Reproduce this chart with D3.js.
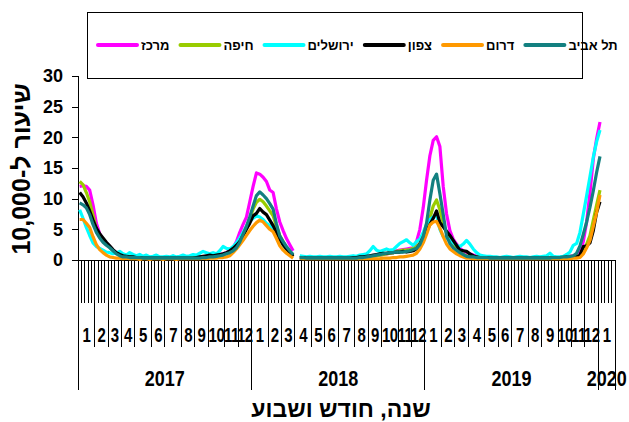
<!DOCTYPE html>
<html>
<head>
<meta charset="utf-8">
<script src="https://cdn.jsdelivr.net/npm/d3@7"></script>
<style>
  body { margin: 0; background: #fff; }
  text { font-family: "Liberation Sans", Arial, sans-serif; font-weight: bold; fill: #000; }
</style>
</head>
<body>
<div id="chart"></div>
<script>
const W = 629, H = 422;

// weeks in each month, per year (category axis: year > month > week)
const years = ["2017", "2018", "2019", "2020"];
const monthWeeks2017 = [5, 4, 4, 4, 5, 4, 5, 4, 4, 5, 4, 4];
const monthWeeks2018 = [5, 4, 4, 5, 4, 4, 5, 4, 4, 5, 4, 4];
const monthWeeks2019 = [5, 4, 4, 5, 4, 4, 5, 4, 5, 4, 4, 4];
const monthWeeks2020 = [5];
const monthWeeks = [monthWeeks2017, monthWeeks2018, monthWeeks2019, monthWeeks2020];

const yTicks = [0, 5, 10, 15, 20, 25, 30];
const seriesNames = ["מרכז", "חיפה", "ירושלים", "צפון", "דרום", "תל אביב"];

// weekly rate per 10,000 (null = missing week)
const merkaz = [
  12.0, 12.1, 12.0, 11.4, 9.0, 6.0, 4.3, 3.3, 2.8, 2.2, 1.6, 1.2, 0.9, 0.7,
  0.6, 0.5, 0.5, 0.4, 0.4, 0.4, 0.3, 0.3, 0.3, 0.3, 0.3, 0.3, 0.3, 0.3, 0.3, 0.3,
  0.3, 0.3, 0.3, 0.4, 0.4, 0.4, 0.5, 0.5, 0.6, 0.6, 0.7, 0.8, 0.9, 1.0, 1.2,
  1.5, 2.0, 3.0, 4.5, 5.8, 7.0, 9.5, 12.0, 14.2, 14.0, 13.5, 12.8, 11.4, 11.0, 8.3,
  6.2, 4.8, 3.5, 2.5, 1.5,
  null,
  0.4, 0.4, 0.3, 0.3, 0.3, 0.3, 0.3, 0.3, 0.3, 0.3, 0.3, 0.3, 0.3, 0.3, 0.3, 0.3,
  0.3, 0.3, 0.4, 0.4, 0.5, 0.5, 0.6, 0.7, 0.8, 0.9, 1.0, 1.1, 1.3, 1.5,
  1.6, 1.7, 1.8, 1.9, 2.0, 3.0, 5.0, 8.5, 13.0, 17.0, 19.5, 20.1, 18.5, 12.0, 7.5,
  4.8, 3.4, 2.6, 1.9, 1.5, 1.2, 1.0, 0.8, 0.6, 0.5,
  0.5, 0.4, 0.4, 0.4, 0.3, 0.3, 0.3, 0.3, 0.3, 0.3, 0.3, 0.3, 0.3, 0.3, 0.3, 0.3,
  0.3, 0.3, 0.3, 0.3, 0.3, 0.4, 0.4, 0.4, 0.5, 0.5, 0.6, 0.7, 0.8,
  1.2, 3.0, 6.2, 11.0, 16.5, 19.8, 22.5
];
const haifa = [
  12.8, 12.3, 11.0, 9.5, 7.3, 5.0, 4.0, 3.3, 2.7, 2.1, 1.5, 1.1, 0.8, 0.6,
  0.5, 0.5, 0.4, 0.4, 0.4, 0.3, 0.3, 0.3, 0.3, 0.3, 0.3, 0.3, 0.3, 0.3, 0.3, 0.3,
  0.3, 0.3, 0.3, 0.3, 0.4, 0.4, 0.4, 0.5, 0.5, 0.6, 0.6, 0.7, 0.8, 0.9, 1.1,
  1.3, 1.6, 2.1, 2.8, 3.8, 5.2, 6.8, 8.3, 9.4, 9.9, 9.5, 8.8, 8.0, 7.2, 5.5,
  4.0, 3.0, 2.0, 1.3, 0.7,
  null,
  0.4, 0.4, 0.3, 0.3, 0.3, 0.3, 0.3, 0.3, 0.3, 0.3, 0.3, 0.3, 0.3, 0.3, 0.3, 0.3,
  0.3, 0.3, 0.4, 0.4, 0.5, 0.5, 0.6, 0.7, 0.8, 0.9, 1.0, 1.1, 1.2, 1.4,
  1.5, 1.6, 1.6, 1.7, 1.9, 2.2, 2.7, 3.8, 5.0, 6.8, 8.8, 9.8, 8.2, 6.0, 4.4,
  3.2, 2.4, 1.8, 1.3, 0.9, 0.7, 0.6, 0.5, 0.5, 0.4,
  0.4, 0.4, 0.4, 0.3, 0.3, 0.3, 0.3, 0.3, 0.3, 0.3, 0.3, 0.3, 0.3, 0.3, 0.3, 0.3,
  0.3, 0.3, 0.3, 0.3, 0.3, 0.4, 0.4, 0.4, 0.5, 0.5, 0.5, 0.6, 0.7,
  0.6, 1.2, 2.6, 4.0, 6.5, 9.0, 11.4
];
const jerusalem = [
  8.2, 6.8, 5.3, 4.0, 2.8, 2.2, 1.9, 1.6, 1.3, 1.2, 1.0, 1.2, 1.4, 1.0,
  0.8, 1.2, 0.9, 0.7, 0.9, 0.6, 0.8, 0.5, 0.6, 0.8, 0.5, 0.5, 0.6, 0.5, 0.7, 0.5,
  0.6, 0.8, 0.6, 0.7, 0.9, 0.8, 1.1, 1.4, 1.2, 1.0, 1.2, 1.0, 1.5, 2.2, 1.9,
  1.8, 2.2, 2.8, 3.6, 4.5, 5.5, 6.3, 6.8, 7.2, 7.0, 6.6, 6.0, 5.6, 5.0, 4.0,
  3.2, 2.4, 1.6, 1.0, 0.6,
  null,
  0.7, 0.6, 0.5, 0.6, 0.5, 0.5, 0.6, 0.5, 0.5, 0.6, 0.5, 0.5, 0.6, 0.5, 0.5, 0.6,
  0.7, 0.6, 0.8, 0.9, 1.0, 1.5, 2.2, 1.6, 1.4, 1.6, 1.8, 1.6, 1.7, 2.2,
  2.7, 3.0, 3.3, 2.8, 2.4, 3.0, 3.4, 4.5, 5.8, 6.6, 7.0, 7.4, 5.0, 3.8, 3.6,
  3.3, 2.8, 2.4, 2.2, 2.6, 3.2, 2.6, 1.8, 1.2, 0.8,
  0.7, 0.6, 0.6, 0.5, 0.5, 0.4, 0.5, 0.6, 0.5, 0.4, 0.5, 0.6, 0.5, 0.5, 0.4, 0.5,
  0.6, 0.5, 0.6, 0.7, 1.1, 0.6, 0.5, 0.5, 0.6, 0.9, 1.3, 2.4, 2.7,
  4.5, 7.5, 10.5, 13.6, 16.8, 19.3, 21.2
];
const tzafon = [
  11.0, 10.3, 9.3, 8.0, 6.5, 5.2, 4.3, 3.6, 2.9, 2.3, 1.7, 1.2, 0.9, 0.7,
  0.6, 0.5, 0.5, 0.4, 0.4, 0.3, 0.3, 0.3, 0.3, 0.3, 0.3, 0.3, 0.3, 0.3, 0.3, 0.3,
  0.3, 0.3, 0.3, 0.3, 0.3, 0.4, 0.5, 0.6, 0.7, 0.8, 0.7, 0.8, 0.9, 1.0, 1.2,
  1.5, 1.9, 2.4, 3.0, 4.0, 5.0, 6.0, 7.2, 7.6, 8.4, 7.8, 7.4, 6.5, 5.6, 4.5,
  3.4, 2.5, 1.8, 1.2, 0.6,
  null,
  0.4, 0.4, 0.3, 0.3, 0.3, 0.3, 0.3, 0.3, 0.3, 0.3, 0.3, 0.3, 0.3, 0.3, 0.3, 0.3,
  0.4, 0.4, 0.5, 0.5, 0.6, 0.7, 0.8, 0.9, 1.0, 1.1, 1.1, 1.2, 1.2, 1.3,
  1.3, 1.4, 1.3, 1.4, 1.5, 1.8, 2.6, 3.7, 4.7, 5.8, 6.8, 8.0, 6.1, 5.4, 4.7,
  4.0, 3.2, 2.4, 1.6, 1.5, 1.4, 1.0, 0.7, 0.5, 0.4,
  0.4, 0.4, 0.3, 0.3, 0.3, 0.3, 0.3, 0.3, 0.3, 0.3, 0.3, 0.3, 0.3, 0.3, 0.3, 0.3,
  0.3, 0.3, 0.3, 0.3, 0.3, 0.3, 0.4, 0.4, 0.4, 0.5, 0.5, 0.5, 0.5,
  0.8, 2.2, 2.3, 2.8, 4.8, 7.8, 9.5
];
const darom = [
  6.6, 6.6, 6.0, 5.3, 3.8, 2.5, 1.7, 1.2, 0.8, 0.5, 0.4, 0.3, 0.3, 0.2,
  0.3, 0.2, 0.2, 0.2, 0.1, 0.2, 0.2, 0.1, 0.2, 0.2, 0.2, 0.1, 0.2, 0.2, 0.2, 0.1,
  0.2, 0.2, 0.2, 0.2, 0.2, 0.2, 0.2, 0.3, 0.2, 0.3, 0.3, 0.3, 0.4, 0.4, 0.5,
  0.7, 1.2, 1.8, 2.5, 3.2, 4.0, 4.8, 5.5, 6.1, 6.5, 6.2, 5.6, 5.0, 4.6, 3.5,
  2.3, 1.6, 1.1, 0.7, 0.3,
  null,
  0.3, 0.2, 0.2, 0.2, 0.2, 0.2, 0.2, 0.2, 0.2, 0.2, 0.2, 0.2, 0.2, 0.2, 0.2, 0.2,
  0.2, 0.2, 0.2, 0.2, 0.2, 0.2, 0.2, 0.2, 0.2, 0.3, 0.3, 0.3, 0.4, 0.4,
  0.5, 0.5, 0.6, 0.7, 0.8, 1.1, 1.8, 2.8, 4.2, 5.7, 6.2, 6.3, 5.2, 3.8, 2.6,
  1.8, 1.4, 1.0, 0.7, 0.5, 0.3, 0.3, 0.2, 0.2, 0.2,
  0.2, 0.2, 0.2, 0.2, 0.2, 0.2, 0.2, 0.2, 0.2, 0.2, 0.2, 0.2, 0.2, 0.2, 0.2, 0.2,
  0.2, 0.2, 0.2, 0.2, 0.2, 0.2, 0.2, 0.2, 0.2, 0.2, 0.2, 0.3, 0.3,
  0.4, 1.0, 2.0, 3.2, 5.5, 7.8, 10.6
];
const telAviv = [
  9.3, 9.0, 8.5, 7.4, 5.8, 4.5, 3.6, 2.9, 2.4, 2.0, 1.5, 1.0, 0.7, 0.5,
  0.5, 0.4, 0.4, 0.4, 0.4, 0.3, 0.3, 0.3, 0.3, 0.3, 0.3, 0.3, 0.3, 0.3, 0.3, 0.3,
  0.3, 0.3, 0.3, 0.3, 0.3, 0.3, 0.3, 0.4, 0.4, 0.5, 0.5, 0.6, 0.7, 0.8, 1.0,
  1.2, 1.5, 2.0, 2.9, 4.2, 5.5, 7.0, 8.8, 10.5, 11.1, 10.6, 10.0, 9.2, 8.3, 5.9,
  3.9, 3.0, 2.2, 1.5, 0.9,
  null,
  0.4, 0.4, 0.3, 0.3, 0.3, 0.3, 0.3, 0.3, 0.3, 0.3, 0.3, 0.3, 0.3, 0.3, 0.3, 0.3,
  0.3, 0.3, 0.4, 0.4, 0.5, 0.6, 0.7, 0.8, 0.9, 1.0, 1.1, 1.2, 1.2, 1.3,
  1.3, 1.3, 1.4, 1.5, 1.7, 1.9, 2.5, 3.8, 6.0, 9.8, 13.0, 14.0, 10.8, 7.4, 3.9,
  2.7, 2.0, 1.6, 1.2, 0.9, 0.6, 0.5, 0.5, 0.4, 0.4,
  0.4, 0.4, 0.3, 0.3, 0.3, 0.3, 0.3, 0.3, 0.3, 0.3, 0.3, 0.3, 0.3, 0.3, 0.3, 0.3,
  0.3, 0.3, 0.3, 0.3, 0.3, 0.4, 0.4, 0.4, 0.5, 0.5, 0.6, 0.7, 1.1,
  2.3, 4.2, 6.2, 8.6, 11.3, 14.3, 16.9
];

const series = [merkaz, haifa, jerusalem, tzafon, darom, telAviv];
const colors = ["#ff00ff", "#99cc00", "#00ffff", "#000000", "#ff9900", "#138080"];

// flatten the category hierarchy
const weeks = [];
const months = [];
const yearSpans = [];
years.forEach((yr, yi) => {
    const yStart = weeks.length;
    monthWeeks[yi].forEach((n, mi) => {
        months.push({ label: String(mi + 1), start: weeks.length, n: n });
        for (let k = 0; k < n; k++) weeks.push({ year: yr, month: mi + 1 });
    });
    yearSpans.push({ label: yr, start: yStart, n: weeks.length - yStart });
});

const plot = { left: 78, right: 615, top: 76, bottom: 260 };

const svg = d3.select('#chart').append('svg')
    .attr('width', W)
    .attr('height', H);

const x = d3.scaleBand()
    .domain(d3.range(weeks.length))
    .range([plot.left, plot.right])
    .paddingInner(0).paddingOuter(0);
const bw = x.bandwidth();
const edge = i => plot.left + i * bw;

const y = d3.scaleLinear()
    .domain([0, 30])
    .range([plot.bottom, plot.top]);

// y axis
const yAxis = svg.append('g')
    .attr('transform', `translate(${plot.left},0)`)
    .call(d3.axisLeft(y).tickValues(yTicks).tickSize(6).tickPadding(9));
yAxis.selectAll('path, line').attr('stroke', '#000').attr('shape-rendering', 'crispEdges');
yAxis.selectAll('text')
    .style('font-size', '18px')
    .style('font-weight', 'bold')
    .style('font-family', '"Liberation Sans", Arial, sans-serif');

// x category axis: week ticks, month dividers, year dividers
const xg = svg.append('g').attr('shape-rendering', 'crispEdges');
xg.append('line')
    .attr('x1', plot.left).attr('x2', plot.right)
    .attr('y1', plot.bottom).attr('y2', plot.bottom)
    .attr('stroke', '#000');
xg.selectAll('.wk')
    .data(d3.range(weeks.length + 1))
    .join('line')
    .attr('class', 'wk')
    .attr('x1', d => edge(d)).attr('x2', d => edge(d))
    .attr('y1', plot.bottom).attr('y2', 303)
    .attr('stroke', '#000');
xg.selectAll('.mo')
    .data(months.map(m => m.start).concat([weeks.length]))
    .join('line')
    .attr('class', 'mo')
    .attr('x1', d => edge(d)).attr('x2', d => edge(d))
    .attr('y1', 303).attr('y2', 347)
    .attr('stroke', '#000');
xg.selectAll('.yr')
    .data(yearSpans.map(s => s.start).concat([weeks.length]))
    .join('line')
    .attr('class', 'yr')
    .attr('x1', d => edge(d)).attr('x2', d => edge(d))
    .attr('y1', 347).attr('y2', 390)
    .attr('stroke', '#000');

svg.selectAll('.mlab')
    .data(months)
    .join('text')
    .attr('class', 'mlab')
    .attr('text-anchor', 'middle')
    .attr('transform', d => `translate(${edge(d.start) + d.n * bw / 2},342) scale(1,1.35)`)
    .style('font-size', '15px')
    .style('letter-spacing', '-0.5px')
    .text(d => d.label);

svg.selectAll('.ylab')
    .data(yearSpans)
    .join('text')
    .attr('class', 'ylab')
    .attr('text-anchor', 'middle')
    .attr('transform', d => `translate(${edge(d.start) + d.n * bw / 2},386) scale(1,1.25)`)
    .style('font-size', '18px')
    .text(d => d.label);

// series lines
const line = d3.line()
    .defined(d => d != null)
    .x((d, i) => x(i) + bw / 2)
    .y(d => y(d));

series.forEach((s, k) => {
    svg.append('path')
        .datum(s)
        .attr('fill', 'none')
        .attr('stroke', colors[k])
        .attr('stroke-width', 3.2)
        .attr('stroke-linejoin', 'round')
        .attr('d', line);
});

// titles
svg.append('text')
    .attr('transform', 'translate(30,169) rotate(-90)')
    .attr('text-anchor', 'middle')
    .attr('direction', 'rtl')
    .style('font-size', '25px')
    .text('שיעור ל-10,000');

svg.append('text')
    .attr('x', 341)
    .attr('y', 417)
    .attr('text-anchor', 'middle')
    .attr('direction', 'rtl')
    .style('font-size', '23px')
    .text('שנה, חודש ושבוע');

// legend
const legend = svg.append('g');
legend.append('rect')
    .attr('x', 87.5).attr('y', 12.5)
    .attr('width', 495).attr('height', 66)
    .attr('fill', '#fff')
    .attr('stroke', '#000');

let lx = 98;
seriesNames.forEach((name, k) => {
    legend.append('line')
        .attr('x1', lx).attr('x2', lx + 39)
        .attr('y1', 45).attr('y2', 45)
        .attr('stroke', colors[k])
        .attr('stroke-width', 4)
        .attr('stroke-linecap', 'round');
    const t = legend.append('text')
        .attr('y', 50)
        .attr('text-anchor', 'middle')
        .style('font-size', '13px')
        .text(name);
    const w = t.node().getComputedTextLength();
    t.attr('x', lx + 43 + w / 2);
    lx += 43 + w + 11;
});
</script>
</body>
</html>
